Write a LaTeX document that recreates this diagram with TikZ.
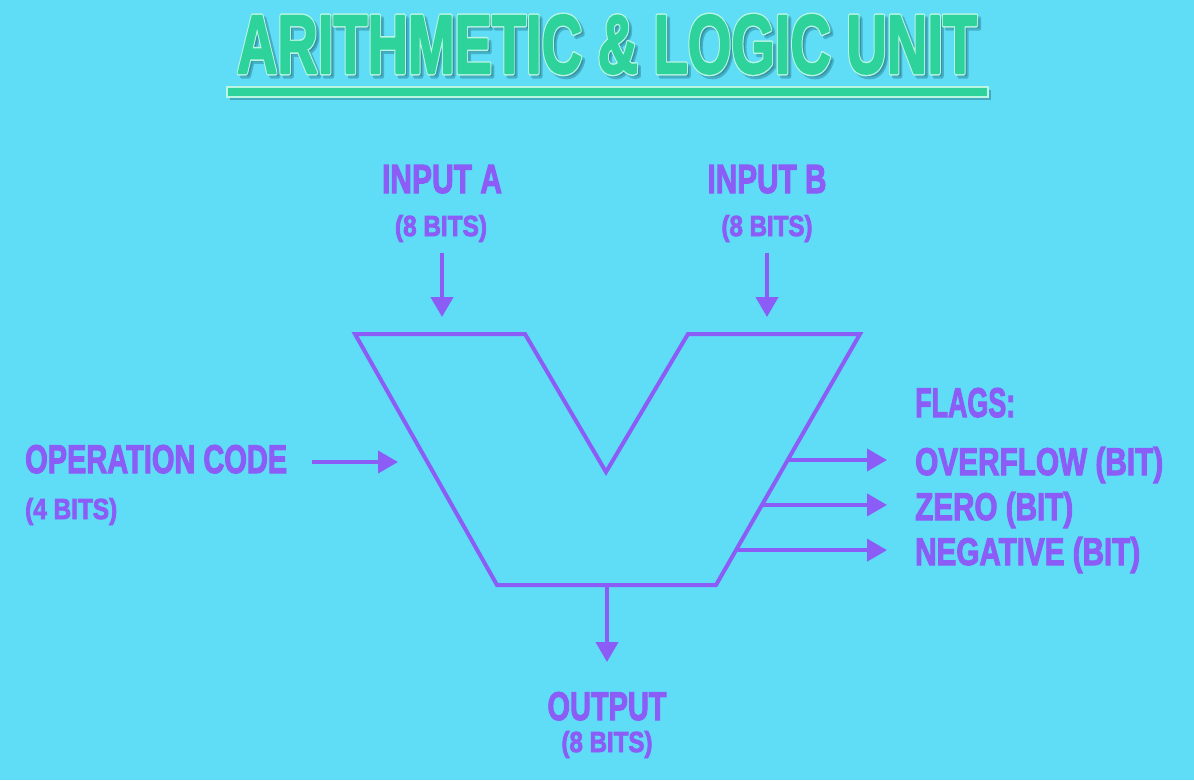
\documentclass[tikz,border=0pt]{standalone}
\usepackage{fontspec}
\setmainfont{Liberation Sans}[BoldFeatures={FakeBold=3}]
\newfontfamily\titlefont{Liberation Sans Bold}[FakeBold=2.5]
\newfontfamily\titleedgefont{Liberation Sans Bold}[FakeBold=6]
\usetikzlibrary{arrows.meta,calc}
\definecolor{bgc}{HTML}{5FDDF6}
\definecolor{pur}{HTML}{8B5CF6}
\definecolor{grn}{HTML}{2ED39B}
\definecolor{grnedge}{HTML}{B8F6E2}
\definecolor{shd}{HTML}{1E6F80}
\newcommand{\fitbox}[3]{\resizebox{#1pt}{#2pt}{\bfseries #3}}
\newcommand{\rjoin}{\special{pdf:code 1 j}}
\begin{document}
\begin{tikzpicture}[x=1pt,y=-1pt,
  lbl/.style={inner sep=0pt, text=pur, anchor=base},
  lblw/.style={inner sep=0pt, text=pur, anchor=base west},
  ttl/.style={inner sep=0pt, anchor=base},
  arr/.style={draw=pur, line width=4pt, -{Triangle[width=22pt,length=20pt]}},
  alu/.style={draw=pur, line width=4pt, line join=miter}]
\fill[bgc] (0,0) rectangle (1194,780);
\useasboundingbox (0,0) rectangle (1194,780);
% title
\node[ttl, text=shd, opacity=0.4] (titleshadow) at (610,76)
  {\rjoin\resizebox{740pt}{58pt}{\titleedgefont ARITHMETIC \& LOGIC UNIT}};
\node[ttl, text=grnedge] (titleedge) at (607,73)
  {\rjoin\resizebox{740pt}{58pt}{\titleedgefont ARITHMETIC \& LOGIC UNIT}};
\node[ttl, text=grn] (title) at (607,73)
  {\rjoin\resizebox{740pt}{58pt}{\titlefont ARITHMETIC \& LOGIC UNIT}};
\fill[shd, opacity=0.45] (230,90) rectangle (991,100);
\draw[fill=grn, draw=grnedge, line width=1.5pt] (227,87) rectangle (988,97);
% labels
\node[lbl] (ina) at (442,193) {\fitbox{120}{28}{INPUT A}};
\node[lbl] (ina2) at (441,236) {\fitbox{92}{21}{(8 BITS)}};
\node[lbl] (inb) at (767,193) {\fitbox{119}{28}{INPUT B}};
\node[lbl] (inb2) at (767,236) {\fitbox{91}{21}{(8 BITS)}};
\node[lblw] (op) at (25,473) {\fitbox{262}{28}{OPERATION CODE}};
\node[lblw] (op2) at (25,519) {\fitbox{92}{21}{(4 BITS)}};
\node[lblw] (flags) at (915,417) {\fitbox{100}{29}{FLAGS:}};
\node[lblw] (ovf) at (915,475) {\fitbox{248}{28}{OVERFLOW (BIT)}};
\node[lblw] (zero) at (915,520) {\fitbox{158}{28}{ZERO (BIT)}};
\node[lblw] (neg) at (915,565) {\fitbox{225}{28}{NEGATIVE (BIT)}};
\node[lbl] (out) at (607,720) {\fitbox{119}{28}{OUTPUT}};
\node[lbl] (out2) at (607,752) {\fitbox{91}{21}{(8 BITS)}};
% ALU shape
\coordinate (p1) at (355,334);
\coordinate (p2) at (525,334);
\coordinate (v) at (606,472);
\coordinate (p3) at (688,334);
\coordinate (p4) at (860,334);
\coordinate (p5) at (716,585);
\coordinate (p6) at (497,585);
\draw[alu] (p1) -- (p2) -- (v) -- (p3) -- (p4) -- (p5) -- (p6) -- cycle;
% arrows
\coordinate (aS) at (442,253); \coordinate (aE) at (442,317);
\coordinate (bS) at (767,253); \coordinate (bE) at (767,317);
\coordinate (opS) at (312,462); \coordinate (opE) at (398,462);
\coordinate (f1S) at ($(p4)!0.502!(p5)$); \coordinate (f1E) at (887,460);
\coordinate (f2S) at ($(p4)!0.681!(p5)$); \coordinate (f2E) at (887,505);
\coordinate (f3S) at ($(p4)!0.861!(p5)$); \coordinate (f3E) at (887,550);
\coordinate (oS) at (607,585); \coordinate (oE) at (607,662);
\draw[arr] (aS) -- (aE);
\draw[arr] (bS) -- (bE);
\draw[arr] (opS) -- (opE);
\draw[arr] (f1S) -- (f1S -| f1E);
\draw[arr] (f2S) -- (f2S -| f2E);
\draw[arr] (f3S) -- (f3S -| f3E);
\draw[arr] (oS) -- (oE);
\end{tikzpicture}
\end{document}
